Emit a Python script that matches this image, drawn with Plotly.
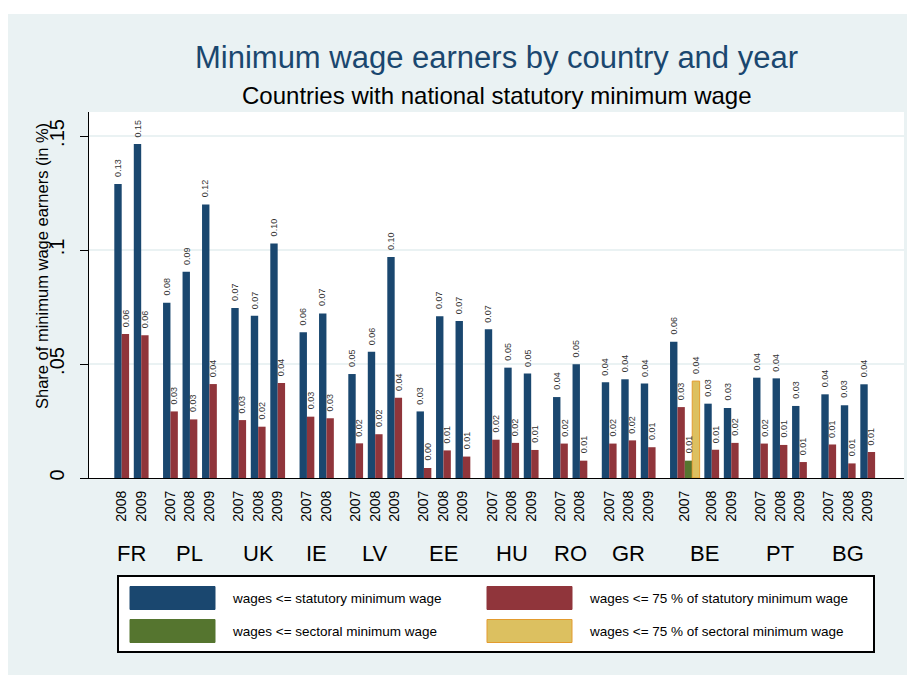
import plotly.graph_objects as go

# data
countries = ["FR", "PL", "UK", "IE", "LV", "EE", "HU", "RO", "GR", "BE", "PT", "BG"]
years = {
    "FR": [2008, 2009], "PL": [2007, 2008, 2009], "UK": [2007, 2008, 2009],
    "IE": [2007, 2008], "LV": [2007, 2008, 2009], "EE": [2007, 2008, 2009],
    "HU": [2007, 2008, 2009], "RO": [2007, 2008], "GR": [2007, 2008, 2009],
    "BE": [2007, 2008, 2009], "PT": [2007, 2008, 2009], "BG": [2007, 2008, 2009],
}
statutory = [0.1290, 0.1465,
             0.0769, 0.0905, 0.1200,
             0.0746, 0.0712, 0.1029,
             0.0639, 0.0722,
             0.0456, 0.0554, 0.0969,
             0.0292, 0.0709, 0.0689,
             0.0652, 0.0484, 0.0458,
             0.0355, 0.0499,
             0.0420, 0.0433, 0.0414,
             0.0598, 0.0326, 0.0307,
             0.0440, 0.0437, 0.0316,
             0.0367, 0.0319, 0.0411]
statutory75 = [0.0632, 0.0626,
               0.0292, 0.0257, 0.0412,
               0.0254, 0.0225, 0.0417,
               0.0269, 0.0262,
               0.0152, 0.0192, 0.0352,
               0.0044, 0.0121, 0.0094,
               0.0168, 0.0154, 0.0123,
               0.0151, 0.0076,
               0.0151, 0.0165, 0.0135,
               0.0311, 0.0124, 0.0154,
               0.0151, 0.0145, 0.0070,
               0.0147, 0.0064, 0.0114]
# sectoral minimum wage only for BE 2007
sectoral = {("BE", 2007): 0.0076}
sectoral75 = {("BE", 2007): 0.0425}

NAVY, MAROON, GREEN, SAND = "#1a476f", "#90353b", "#55752f", "#dcc060"
BG = "#eaf2f3"
FONT = "Liberation Sans, Arial, sans-serif"

# layout of bars along x (1 unit = one bar)
slot_gap = 0.635
country_gap = 1.32

xb, xr, xg, xy = [], [], [], []
sec_vals, sec75_vals = [], []
tick_pos, tick_txt = [], []
country_pos = []
cur = 0.0
for c in countries:
    start = cur
    for yr in years[c]:
        has_sec = (c, yr) in sectoral
        nb = 4 if has_sec else 2
        xb.append(cur + 0.5)
        xr.append(cur + 1.5)
        if has_sec:
            xg.append(cur + 2.5)
            xy.append(cur + 3.5)
            sec_vals.append(sectoral[(c, yr)])
            sec75_vals.append(sectoral75[(c, yr)])
        tick_pos.append(cur + nb / 2)
        tick_txt.append(str(yr))
        end = cur + nb
        cur += nb + slot_gap
    country_pos.append((start + end) / 2)
    cur += country_gap

fig = go.Figure()
annotations = []

def add_bars(x, y, color, line_color=None, line_width=0):
    fig.add_trace(go.Bar(
        x=x, y=y, width=1,
        marker=dict(color=color, line=dict(color=line_color or color, width=line_width)),
        showlegend=False, hoverinfo="x+y",
    ))
    # value labels above the bars
    for xi, yi in zip(x, y):
        annotations.append(dict(x=xi, y=yi, xref="x", yref="y", text=f"{yi:.2f}",
                                showarrow=False, textangle=-90, xanchor="center",
                                yanchor="bottom", yshift=5,
                                font=dict(size=9, color="#333333", family=FONT)))

add_bars(xb, statutory, NAVY)
add_bars(xr, statutory75, MAROON)
add_bars(xg, sec_vals, GREEN)
add_bars(xy, sec75_vals, SAND, "#e39b2e", 1)

# page has an 8px body margin, so figure pixel = screen pixel - 8
OFF = 8
W, H = 907, 667
L, R, T, B = 81, 11, 104, 197
pw, ph = W - L - R, H - T - B

def px(x):
    return (x - OFF - L) / pw

def py(y):
    return (H - B - (y - OFF)) / ph

shapes = [
    # white strip above the light background
    dict(type="rect", xref="paper", yref="paper", x0=px(0), x1=px(930), y0=py(0), y1=py(14),
         fillcolor="white", line_width=0, layer="below"),
    # legend box
    dict(type="rect", xref="paper", yref="paper", x0=px(118), x1=px(874), y0=py(576), y1=py(652),
         fillcolor="white", line=dict(color="black", width=2)),
]
legend_items = [
    (NAVY, "wages <= statutory minimum wage", 130, 598),
    (MAROON, "wages <= 75 % of statutory minimum wage", 487, 598),
    (GREEN, "wages <= sectoral minimum wage", 130, 631),
    (SAND, "wages <= 75 % of sectoral minimum wage", 487, 631),
]
for col, txt, x0, yc in legend_items:
    shapes.append(dict(type="rect", xref="paper", yref="paper",
                       x0=px(x0), x1=px(x0 + 85), y0=py(yc - 11.5), y1=py(yc + 11.5),
                       fillcolor=col,
                       line=dict(color="#e39b2e" if col == SAND else col, width=1)))
    annotations.append(dict(xref="paper", yref="paper", x=px(x0 + 100), y=py(yc),
                            text=txt, showarrow=False, xanchor="left", yanchor="middle",
                            font=dict(size=13.5, color="black", family=FONT)))

for c, xc in zip(countries, country_pos):
    annotations.append(dict(xref="x", yref="paper", x=xc, y=py(553), text=c, showarrow=False,
                            xanchor="center", yanchor="middle",
                            font=dict(size=22, color="black", family=FONT)))

annotations.append(dict(xref="paper", yref="paper", x=0.5, y=py(95),
                        text="Countries with national statutory minimum wage", showarrow=False,
                        xanchor="center", yanchor="middle",
                        font=dict(size=24, color="black", family=FONT)))
annotations.append(dict(xref="paper", yref="paper", x=px(42), y=py(266),
                        text="Share of minimum wage earners (in %)", showarrow=False,
                        textangle=-90, xanchor="center", yanchor="middle",
                        font=dict(size=16.5, color="black", family=FONT)))

# first bar's left edge sits at screen x 114.3, one bar is 7.398 px wide
x0_unit = 114.3 - OFF
unit = 7.398
fig.update_layout(
    width=W, height=H, autosize=False,
    margin=dict(l=L, r=R, t=T, b=B),
    paper_bgcolor=BG, plot_bgcolor="white",
    barmode="overlay",
    title=dict(text="Minimum wage earners by country and year", x=0.5, xref="paper",
               xanchor="center", y=1 - (57 - OFF) / H, yanchor="middle",
               font=dict(size=31, color=NAVY, family=FONT)),
    xaxis=dict(range=[(L - x0_unit) / unit, (W - R - x0_unit) / unit],
               tickvals=tick_pos, ticktext=tick_txt, tickangle=-90,
               tickfont=dict(size=14, color="black", family=FONT),
               ticks="", showgrid=False, zeroline=False,
               showline=True, linecolor="black", linewidth=1.2, ticklabelstandoff=6),
    yaxis=dict(range=[0, (H - B - T) / 2280], tickvals=[0, 0.05, 0.1, 0.15],
               ticktext=["0", ".05", ".1", ".15"], tickangle=-90,
               tickfont=dict(size=20, color="black", family=FONT),
               ticks="outside", ticklen=8, tickcolor="black", tickwidth=1,
               showline=True, linecolor="black", linewidth=1.2,
               showgrid=True, gridcolor=BG, gridwidth=1.5, zeroline=False,
               ticklabelstandoff=8),
    shapes=shapes,
    annotations=annotations,
    font=dict(family=FONT),
)

fig.write_html("out.html", config={"displayModeBar": False})
